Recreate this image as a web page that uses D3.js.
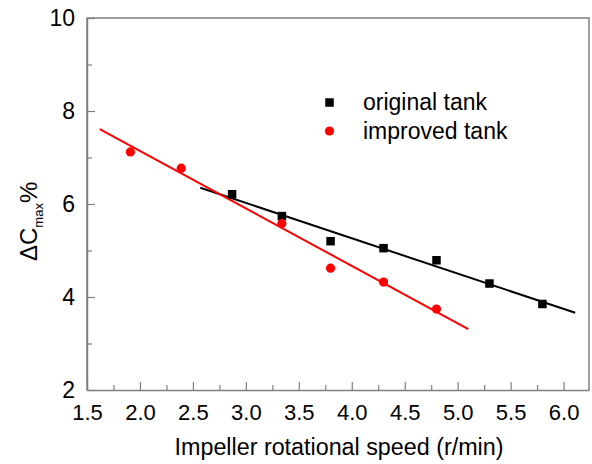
<!DOCTYPE html>
<html>
<head>
<meta charset="utf-8">
<script src="https://cdn.jsdelivr.net/npm/d3@7"></script>
<style>
  html, body { margin: 0; padding: 0; background: #fff; }
  svg { display: block; }
  text { font-family: "Liberation Sans", Arial, Helvetica, sans-serif; fill: #000; }
</style>
</head>
<body>
<svg id="chart" width="592" height="464"></svg>
<script>
// ---- data ----
const seriesNames = ["original tank", "improved tank"];
const speedOriginal = [2.87, 3.34, 3.80, 4.30, 4.80, 5.30, 5.80];
const dcOriginal    = [6.21, 5.74, 5.20, 5.05, 4.79, 4.29, 3.85];
const speedImproved = [1.91, 2.39, 3.34, 3.80, 4.30, 4.80];
const dcImproved    = [7.12, 6.77, 5.58, 4.62, 4.32, 3.74];
// linear fit lines (end points)
const fitOriginalX = [2.57, 6.11];
const fitOriginalY = [6.35, 3.66];
const fitImprovedX = [1.62, 5.10];
const fitImprovedY = [7.61, 3.31];
// ticks
const xTicks = [1.5, 2.0, 2.5, 3.0, 3.5, 4.0, 4.5, 5.0, 5.5, 6.0];
const xMinorTicks = [1.75, 2.25, 2.75, 3.25, 3.75, 4.25, 4.75, 5.25, 5.75];
const yTicks = [2, 4, 6, 8, 10];
const yMinorTicks = [3, 5, 7, 9];
const xTitle = "Impeller rotational speed (r/min)";

// ---- layout ----
const svg = d3.select("#chart");
const L = 87, R = 589, T = 18, B = 390;
const x = d3.scaleLinear().domain([1.5, 6.24]).range([L, R]);
const y = d3.scaleLinear().domain([2, 10]).range([B, T]);
const frameColor = "#808080";

// frame
svg.append("path")
  .attr("d", `M${L},${B} L${L},${T} L${R},${T} L${R},${B}`)
  .attr("fill", "none").attr("stroke", frameColor).attr("stroke-width", 1.5);

// x axis
const xAxis = svg.append("g").attr("transform", `translate(0,${B})`)
  .call(d3.axisBottom(x).tickValues(xTicks).tickFormat(d3.format(".1f"))
    .tickSizeInner(-8).tickSizeOuter(0).tickPadding(14));
xAxis.select(".domain").attr("stroke", frameColor).attr("stroke-width", 1.5);
xAxis.selectAll(".tick line").attr("stroke", frameColor).attr("stroke-width", 1.2);
xAxis.selectAll(".tick text").attr("font-size", 22).attr("fill", "#000")
  .attr("font-family", "Liberation Sans, Arial, sans-serif");
const xMinor = svg.append("g").attr("transform", `translate(0,${B})`)
  .call(d3.axisBottom(x).tickValues(xMinorTicks).tickFormat("").tickSizeInner(-5).tickSizeOuter(0));
xMinor.select(".domain").remove();
xMinor.selectAll(".tick line").attr("stroke", frameColor).attr("stroke-width", 1.2);

// y axis
const yAxis = svg.append("g").attr("transform", `translate(${L},0)`)
  .call(d3.axisLeft(y).tickValues(yTicks).tickFormat(d3.format("d"))
    .tickSizeInner(-8).tickSizeOuter(0).tickPadding(12));
yAxis.select(".domain").attr("stroke", frameColor).attr("stroke-width", 1.5);
yAxis.selectAll(".tick line").attr("stroke", frameColor).attr("stroke-width", 1.2);
yAxis.selectAll(".tick text").attr("font-size", 23).attr("fill", "#000")
  .attr("font-family", "Liberation Sans, Arial, sans-serif");
const yMinor = svg.append("g").attr("transform", `translate(${L},0)`)
  .call(d3.axisLeft(y).tickValues(yMinorTicks).tickFormat("").tickSizeInner(-5).tickSizeOuter(0));
yMinor.select(".domain").remove();
yMinor.selectAll(".tick line").attr("stroke", frameColor).attr("stroke-width", 1.2);

// axis titles
svg.append("text").attr("x", (L + R) / 2 + 1).attr("y", 455)
  .attr("text-anchor", "middle").attr("font-size", 23.3).text(xTitle);

const yt = svg.append("text")
  .attr("transform", "translate(37,261) rotate(-90)")
  .attr("font-size", 24);
yt.append("tspan").text("\u0394C");
yt.append("tspan").attr("font-size", 13).attr("dy", 6).text("max");
yt.append("tspan").attr("dy", -6).text("%");

// fit lines
const line = d3.line().x(d => x(d[0])).y(d => y(d[1]));
svg.append("path").datum(d3.zip(fitOriginalX, fitOriginalY))
  .attr("d", line).attr("fill", "none").attr("stroke", "#000").attr("stroke-width", 2);
svg.append("path").datum(d3.zip(fitImprovedX, fitImprovedY))
  .attr("d", line).attr("fill", "none").attr("stroke", "#ff0000").attr("stroke-width", 2);

// points
const sq = 8.5;
svg.append("g").selectAll("rect").data(d3.zip(speedOriginal, dcOriginal)).join("rect")
  .attr("x", d => x(d[0]) - sq / 2).attr("y", d => y(d[1]) - sq / 2)
  .attr("width", sq).attr("height", sq).attr("fill", "#000");
svg.append("g").selectAll("circle").data(d3.zip(speedImproved, dcImproved)).join("circle")
  .attr("cx", d => x(d[0])).attr("cy", d => y(d[1])).attr("r", 4.6).attr("fill", "#ff0000");

// legend
const lg = svg.append("g");
lg.append("rect").attr("x", 329.5 - sq / 2).attr("y", 102.5 - sq / 2)
  .attr("width", sq).attr("height", sq).attr("fill", "#000");
lg.append("circle").attr("cx", 329.5).attr("cy", 131).attr("r", 4.6).attr("fill", "#ff0000");
lg.append("text").attr("x", 363).attr("y", 110).attr("font-size", 23).text(seriesNames[0]);
lg.append("text").attr("x", 363).attr("y", 139).attr("font-size", 23).text(seriesNames[1]);
</script>
</body>
</html>
